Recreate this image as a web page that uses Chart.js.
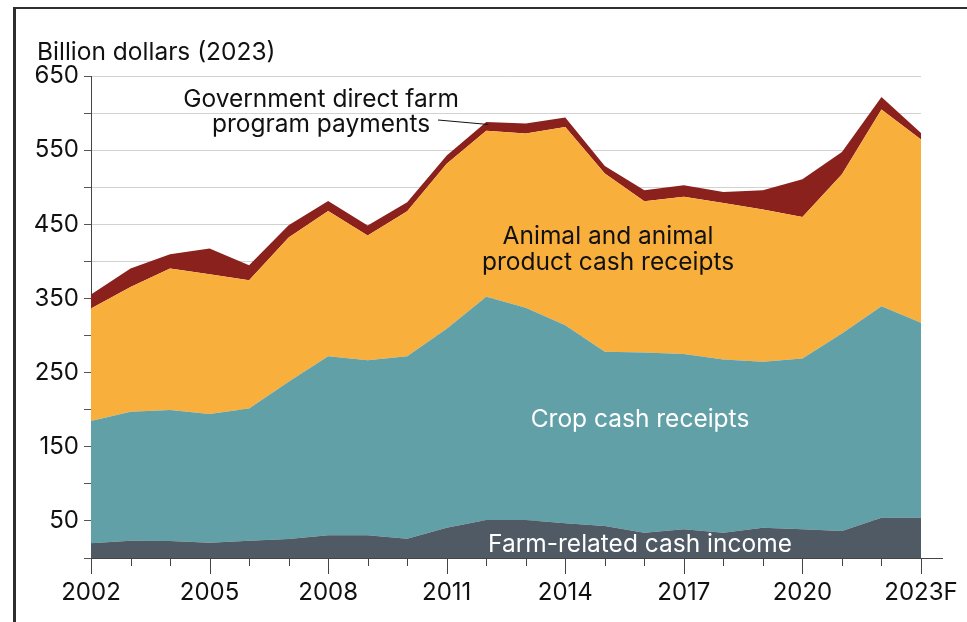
<!DOCTYPE html>
<html>
<head>
<meta charset="utf-8">
<script src="https://cdn.jsdelivr.net/npm/chart.js@4/dist/chart.umd.min.js"></script>
<style>
  html, body { margin: 0; padding: 0; background: #fff; }
  #wrap { position: relative; width: 967px; height: 622px; overflow: hidden; }
  #frame { position: absolute; left: 13px; top: 7px; width: 960px; height: 620px;
           border-left: 3px solid #2e2e2e; border-top: 2px solid #2e2e2e; pointer-events: none; }
  canvas { position: absolute; left: 0; top: 0; }
</style>
</head>
<body>
<div id="wrap">
  <canvas id="c" width="967" height="622"></canvas>
  <div id="frame"></div>
</div>
<script>
const years = ['2002','2003','2004','2005','2006','2007','2008','2009','2010','2011','2012',
               '2013','2014','2015','2016','2017','2018','2019','2020','2021','2022','2023F'];
const farmRelated = [19.8,23.4,22.9,20.6,23.4,25.6,30.6,30.6,26.0,40.8,51.2,51.2,46.7,43.1,34.1,38.7,34.1,40.8,38.7,36.4,54.3,54.3];
const cropReceipts = [164.8,173.8,176.6,173.5,178.3,212.0,241.6,236.2,246.2,268.2,301.0,286.3,267.3,234.9,243.1,236.3,233.7,223.8,230.4,266.4,285.3,262.8];
const animalReceipts = [151.9,168.4,190.9,188.6,173.0,194.6,195.8,168.1,195.5,222.5,223.8,234.9,267.3,240.4,203.9,212.0,211.0,205.3,190.9,214.7,265.1,247.2];
const govPayments = [18.9,24.8,19.3,34.7,20.2,16.6,13.5,13.5,12.1,11.2,12.0,13.6,12.6,10.3,14.9,15.7,14.9,26.1,50.8,30.1,17.0,8.9];
const xTickLabels = ['2002','2005','2008','2011','2014','2017','2020','2023F'];
const yTickLabels = [50,150,250,350,450,550,650];

const FONT = 'Inter, Roboto, "Liberation Sans", sans-serif';

const decor = {
  id: 'decor',
  afterDraw(chart) {
    const ctx = chart.ctx;
    const xs = chart.scales.x, ys = chart.scales.y;
    const ca = chart.chartArea;
    ctx.save();
    ctx.strokeStyle = '#444';
    ctx.lineWidth = 1;
    ctx.beginPath();
    ctx.moveTo(ca.left, ca.bottom + 0.5);
    ctx.lineTo(ca.right + 22, ca.bottom + 0.5);
    ctx.stroke();
    years.forEach((y, i) => {
      const px = Math.round(xs.getPixelForValue(i)) + 0.5;
      const major = xTickLabels.includes(y);
      ctx.beginPath();
      ctx.moveTo(px, ca.bottom);
      ctx.lineTo(px, ca.bottom + (major ? 16 : 8));
      ctx.stroke();
    });
    ctx.fillStyle = '#111';
    ctx.font = '24.5px ' + FONT;
    ctx.textBaseline = 'alphabetic';
    ctx.textAlign = 'left';
    ctx.fillText('Billion dollars (2023)', 37, 60);
    ctx.textAlign = 'center';
    ctx.fillText('Government direct farm', 321, 106.5);
    ctx.fillText('program payments', 321, 132);
    ctx.fillText('Animal and animal', 608, 244);
    ctx.fillText('product cash receipts', 608, 270);
    ctx.fillStyle = '#fff';
    ctx.fillText('Crop cash receipts', 640, 426.5);
    ctx.fillText('Farm-related cash income', 640, 551.5);
    const i12 = years.indexOf('2012');
    const top12 = farmRelated[i12] + cropReceipts[i12] + animalReceipts[i12] + govPayments[i12];
    ctx.strokeStyle = '#111';
    ctx.lineWidth = 1;
    ctx.beginPath();
    ctx.moveTo(438, 120);
    ctx.lineTo(xs.getPixelForValue(i12) + 2, ys.getPixelForValue(top12) + 2.5);
    ctx.stroke();
    ctx.restore();
  }
};

const mk = (label, data, color, fill) => ({
  label, data, backgroundColor: color, borderColor: color, borderWidth: 0,
  pointRadius: 0, tension: 0, fill
});

new Chart(document.getElementById('c'), {
  type: 'line',
  data: {
    labels: years,
    datasets: [
      mk('Farm-related cash income', farmRelated, '#4f5a64', 'origin'),
      mk('Crop cash receipts', cropReceipts, '#62a0a8', '-1'),
      mk('Animal and animal product cash receipts', animalReceipts, '#f9af3c', '-1'),
      mk('Government direct farm program payments', govPayments, '#8b211d', '-1')
    ]
  },
  options: {
    responsive: false,
    animation: false,
    events: [],
    layout: { padding: { left: 0, right: 46, top: 76, bottom: 0 } },
    plugins: { legend: { display: false }, tooltip: { enabled: false } },
    scales: {
      x: {
        type: 'category',
        offset: false,
        grid: { display: true, drawOnChartArea: false, drawTicks: true, tickLength: 16, tickColor: 'rgba(0,0,0,0)' },
        border: { display: false },
        ticks: {
          autoSkip: false, maxRotation: 0, padding: 4, color: '#111',
          font: { family: FONT, size: 24 },
          callback: function(v, i) { const l = years[i]; return xTickLabels.includes(l) ? l : ''; }
        },
        afterFit(s) { s.height = 64; }
      },
      y: {
        stacked: true,
        min: 0, max: 650,
        grid: { color: '#d2d2d2', lineWidth: 1, tickLength: 7, tickColor: '#555' },
        border: { display: true, color: '#444', width: 1 },
        ticks: {
          stepSize: 50, padding: 5, color: '#111',
          font: { family: FONT, size: 24 },
          callback: function(v) { return yTickLabels.includes(v) ? String(v) : ''; }
        },
        afterFit(s) { s.width = 91; }
      }
    }
  },
  plugins: [decor]
});
</script>
</body>
</html>
